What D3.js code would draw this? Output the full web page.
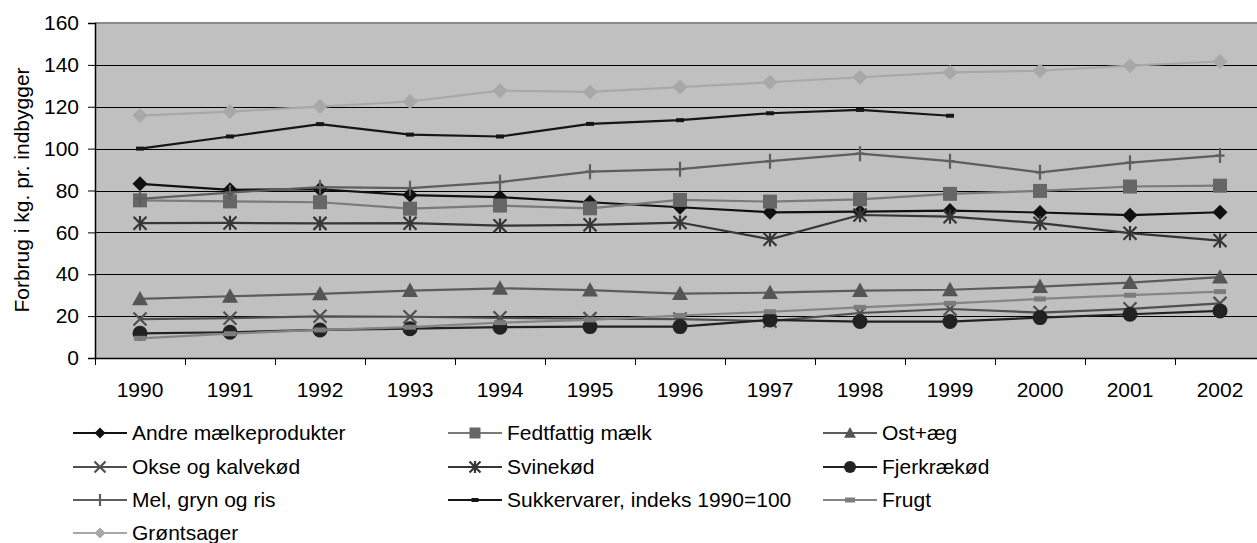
<!DOCTYPE html>
<html>
<head>
<meta charset="utf-8">
<script src="https://cdn.jsdelivr.net/npm/d3@7"></script>
<style>
  body { margin: 0; background: #fff; }
  svg { display: block; font-family: "Liberation Sans", Arial, sans-serif; }
  .axis text { font-size: 21px; fill: #000; }
  .legend text { font-size: 21px; fill: #000; }
</style>
</head>
<body>
<svg id="chart" width="1257" height="543"></svg>
<script>
const years = ['1990', '1991', '1992', '1993', '1994', '1995', '1996', '1997', '1998', '1999', '2000', '2001', '2002']
const yTicks = [0, 20, 40, 60, 80, 100, 120, 140, 160]

const andre = [83.2, 80.3, 80.6, 77.8, 76.8, 74.4, 72.0, 69.6, 69.9, 70.4, 69.5, 68.2, 69.6]
const fedtfattig = [75.3, 74.8, 74.4, 71.3, 72.8, 71.5, 75.5, 74.7, 75.8, 78.4, 79.8, 81.9, 82.3]
const ost = [28.2, 29.5, 30.6, 32.2, 33.3, 32.4, 30.7, 31.2, 32.2, 32.6, 34.1, 36.0, 38.6]
const okse = [18.6, 19.0, 19.9, 19.7, 19.2, 18.8, 18.6, 17.6, 21.5, 23.4, 21.7, 23.5, 26.1]
const svin = [64.4, 64.5, 64.3, 64.4, 63.2, 63.6, 64.7, 56.7, 68.3, 67.5, 64.4, 59.6, 56.1]
const fjerkrae = [11.8, 12.3, 13.4, 14.0, 14.7, 15.0, 15.0, 18.2, 17.4, 17.4, 19.3, 20.9, 22.5]
const mel = [76.0, 79.0, 81.6, 81.1, 84.0, 89.0, 90.2, 94.0, 97.6, 94.0, 88.7, 93.3, 96.7]
const sukker = [100, 105.8, 111.7, 106.7, 105.8, 111.8, 113.6, 116.9, 118.5, 115.7, null, null, null]
const frugt = [9.4, 11.6, 13.4, 14.7, 16.9, 18.2, 20.3, 22.1, 24.2, 26.1, 28.2, 30.0, 31.7]
const groent = [115.8, 117.7, 120.1, 122.5, 127.7, 127.1, 129.4, 131.7, 134.1, 136.4, 137.2, 139.6, 141.6]

const series = [
  { name: 'Andre mælkeprodukter', values: andre, line: '#111', fill: '#111', marker: 'diamond' },
  { name: 'Fedtfattig mælk', values: fedtfattig, line: '#7a7a7a', fill: '#666', marker: 'square' },
  { name: 'Ost+æg', values: ost, line: '#5c5c5c', fill: '#555', marker: 'triangle' },
  { name: 'Okse og kalvekød', values: okse, line: '#505050', fill: '#505050', marker: 'x' },
  { name: 'Svinekød', values: svin, line: '#363636', fill: '#363636', marker: 'star' },
  { name: 'Fjerkrækød', values: fjerkrae, line: '#222', fill: '#222', marker: 'circle' },
  { name: 'Mel, gryn og ris', values: mel, line: '#5e5e5e', fill: '#5e5e5e', marker: 'plus' },
  { name: 'Sukkervarer, indeks 1990=100', values: sukker, line: '#161616', fill: '#161616', marker: 'dash' },
  { name: 'Frugt', values: frugt, line: '#858585', fill: '#7c7c7c', marker: 'bar' },
  { name: 'Grøntsager', values: groent, line: '#a8a8a8', fill: '#a8a8a8', marker: 'diamond' }
]

const svg = d3.select('#chart')
const plot = { left: 95, top: 23, right: 1265, bottom: 358 }

const x = d3.scaleBand()
  .domain(years)
  .range([plot.left, plot.right])
  .paddingInner(0)
  .paddingOuter(0)
const y = d3.scaleLinear()
  .domain([0, 160])
  .range([plot.bottom, plot.top])
const cx = yr => x(yr) + x.bandwidth() / 2

// plot area
svg.append('rect')
  .attr('x', plot.left)
  .attr('y', plot.top)
  .attr('width', plot.right - plot.left)
  .attr('height', plot.bottom - plot.top)
  .attr('fill', '#c0c0c0')

// gridlines
svg.append('g')
  .selectAll('line')
  .data(yTicks.filter(t => t > 0 && t < 160))
  .join('line')
    .attr('x1', plot.left)
    .attr('x2', plot.right)
    .attr('y1', d => Math.round(y(d)) + 0.5)
    .attr('y2', d => Math.round(y(d)) + 0.5)
    .attr('stroke', '#000')
    .attr('stroke-width', 1)

// top border
svg.append('line')
  .attr('x1', plot.left).attr('x2', plot.right)
  .attr('y1', plot.top).attr('y2', plot.top)
  .attr('stroke', '#8a8a8a').attr('stroke-width', 2)

// y axis
const yAxis = svg.append('g')
  .attr('class', 'axis y-axis')
  .attr('transform', `translate(${plot.left},0)`)
  .call(d3.axisLeft(y).tickValues(yTicks).tickSize(7).tickPadding(9))
yAxis.select('.domain').attr('stroke', '#000').attr('stroke-width', 1.5)
yAxis.selectAll('.tick line').attr('stroke', '#000')

svg.append('text')
  .attr('transform', 'translate(29,190) rotate(-90)')
  .attr('text-anchor', 'middle')
  .style('font-size', '21px')
  .text('Forbrug i kg. pr. indbygger')

// x axis
const xAxis = svg.append('g')
  .attr('class', 'axis x-axis')
  .attr('transform', `translate(0,${plot.bottom})`)
  .call(d3.axisBottom(x).tickSize(0).tickPadding(24))
xAxis.select('.domain').attr('stroke', '#000').attr('stroke-width', 1.5)
xAxis.selectAll('.tick').filter(function () { return false })

// x tick marks at category boundaries
const bounds = years.map(yr => x(yr)).concat([x(years[years.length - 1]) + x.bandwidth()])
svg.append('g')
  .selectAll('line')
  .data(bounds)
  .join('line')
    .attr('x1', d => Math.round(d) + 0.5)
    .attr('x2', d => Math.round(d) + 0.5)
    .attr('y1', plot.bottom)
    .attr('y2', plot.bottom + 7)
    .attr('stroke', '#000')

// marker shapes
function markerPath (type, s) {
  const p = d3.path()
  const h = s / 2
  switch (type) {
    case 'diamond':
      p.moveTo(0, -h); p.lineTo(h, 0); p.lineTo(0, h); p.lineTo(-h, 0); p.closePath(); break
    case 'square':
      p.rect(-h, -h, s, s); break
    case 'triangle':
      p.moveTo(0, -h); p.lineTo(h, h * 0.8); p.lineTo(-h, h * 0.8); p.closePath(); break
    case 'circle':
      p.arc(0, 0, h, 0, Math.PI * 2); break
    case 'x':
      p.moveTo(-h, -h); p.lineTo(h, h); p.moveTo(h, -h); p.lineTo(-h, h); break
    case 'star':
      p.moveTo(-h, -h); p.lineTo(h, h); p.moveTo(h, -h); p.lineTo(-h, h)
      p.moveTo(0, -h * 1.1); p.lineTo(0, h * 1.1); break
    case 'plus':
      p.moveTo(0, -h); p.lineTo(0, h); p.moveTo(-h * 0.6, 0); p.lineTo(h * 0.6, 0); break
    case 'dash':
      p.rect(-h, -2, s, 4); break
    case 'bar':
      p.rect(-h, -2.5, s, 5); break
  }
  return p.toString()
}
const stroked = t => t === 'x' || t === 'star' || t === 'plus'
const markerSize = { diamond: 15, square: 14, triangle: 16, circle: 15, x: 13, star: 13, plus: 15, dash: 8, bar: 12 }
const legendSize = { diamond: 11, square: 11, triangle: 12, circle: 12, x: 11, star: 11, plus: 12, dash: 7, bar: 10 }

function drawMarker (g, type, color, size) {
  g.append('path')
    .attr('d', markerPath(type, size))
    .attr('fill', stroked(type) ? 'none' : color)
    .attr('stroke', stroked(type) ? color : 'none')
    .attr('stroke-width', stroked(type) ? 2.2 : 0)
}

// series
const line = d3.line()
  .defined(d => d != null)
  .x((d, i) => cx(years[i]))
  .y(d => y(d))

series.forEach(s => {
  const g = svg.append('g')
  g.append('path')
    .attr('d', line(s.values))
    .attr('fill', 'none')
    .attr('stroke', s.line)
    .attr('stroke-width', 2.2)
  s.values.forEach((v, i) => {
    if (v == null) return
    const m = g.append('g').attr('transform', `translate(${cx(years[i])},${y(v)})`)
    drawMarker(m, s.marker, s.fill, markerSize[s.marker])
  })
})

// legend
const legendCols = [73, 448, 823]
const legendRows = [433, 467, 500, 533]
const legend = svg.append('g').attr('class', 'legend')
series.forEach((s, i) => {
  const lx = legendCols[i % 3]
  const ly = legendRows[Math.floor(i / 3)]
  const g = legend.append('g').attr('transform', `translate(${lx},${ly})`)
  g.append('line')
    .attr('x1', 0).attr('x2', 54)
    .attr('y1', 0).attr('y2', 0)
    .attr('stroke', s.line)
    .attr('stroke-width', 2.2)
  const m = g.append('g').attr('transform', 'translate(27,0)')
  drawMarker(m, s.marker, s.fill, legendSize[s.marker])
  g.append('text')
    .attr('x', 59)
    .attr('dy', '0.35em')
    .text(s.name)
})
</script>
</body>
</html>
